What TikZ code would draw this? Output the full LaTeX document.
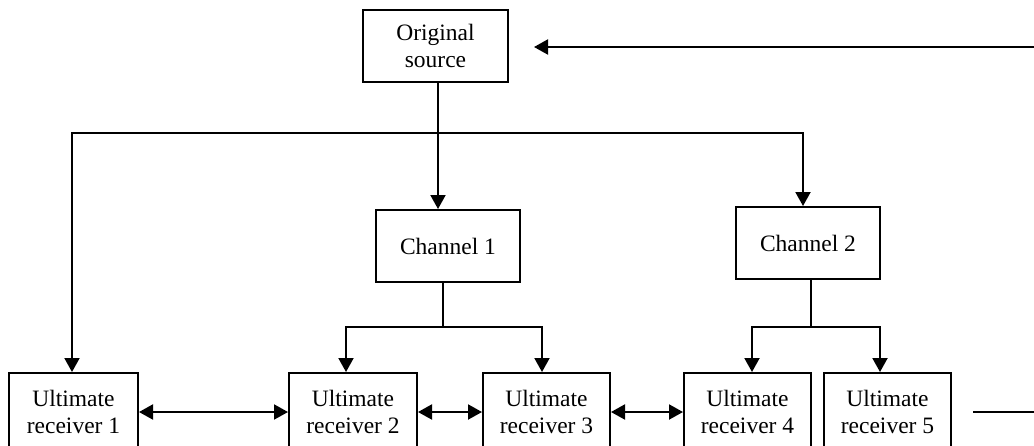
\documentclass[tikz,border=0pt]{standalone}
\usepackage{fontspec}
\setmainfont{Liberation Serif}
\usetikzlibrary{arrows.meta}
\begin{document}
\begin{tikzpicture}[x=1pt,y=-1pt, line width=2pt,
  box/.style={draw, inner sep=0pt, align=center,
    font=\fontsize{23.5}{27}\selectfont},
  src/.style={box, minimum width=145pt, minimum height=72pt},
  chan/.style={box, minimum width=144pt, minimum height=72pt},
  recv/.style={box, minimum width=128pt, minimum height=78pt},
  tip/.tip={Triangle[length=14pt,width=15pt]},
  arr/.style={-tip},
  biarr/.style={tip-tip}]
\useasboundingbox (0,0) rectangle (1034,445);
\clip (0,0) rectangle (1034,445);

% boxes
\node[src]  (source) at (435.5,46) {Original\\source};
\node[chan] (ch1) at (448,246) {Channel 1};
\node[chan] (ch2) at (808,243) {Channel 2};
\node[recv, minimum width=129pt] (r1) at (73.5,412) {Ultimate\\receiver 1};
\node[recv] (r2) at (353,412) {Ultimate\\receiver 2};
\node[recv, minimum width=127pt] (r3) at (546.5,412) {Ultimate\\receiver 3};
\node[recv, minimum width=127pt] (r4) at (747.5,412) {Ultimate\\receiver 4};
\node[recv, minimum width=127pt] (r5) at (887.5,412) {Ultimate\\receiver 5};

% distribution from the source
\coordinate (j0) at (438,133);
\draw[arr] (source.south -| j0) -- (ch1.north -| j0);
\draw[arr] (j0) -| ([xshift=-1.5pt]r1.north);
\draw[arr] (j0) -| ([xshift=-5pt]ch2.north);

% channel 1 to receivers 2 and 3
\coordinate (j1) at (443,327);
\draw (ch1.south -| j1) -- (j1);
\draw[arr] (j1) -| ([xshift=-7pt]r2.north);
\draw[arr] (j1) -| ([xshift=-4.5pt]r3.north);

% channel 2 to receivers 4 and 5
\coordinate (j2) at (811,327);
\draw (ch2.south -| j2) -- (j2);
\draw[arr] (j2) -| ([xshift=4.5pt]r4.north);
\draw[arr] (j2) -| ([xshift=-7.5pt]r5.north);

% links between receivers
\draw[biarr] (r1.east) -- (r2.west);
\draw[biarr] (r2.east) -- (r3.west);
\draw[biarr] (r3.east) -- (r4.west);

% feedback path
\coordinate (fbin) at (1034,47);
\coordinate (fbout) at (1034,412);
\draw[arr] (fbin) -- ([xshift=25pt]source.east |- fbin);
\draw ([xshift=21pt]r5.east) -- (fbout);
\end{tikzpicture}
\end{document}
